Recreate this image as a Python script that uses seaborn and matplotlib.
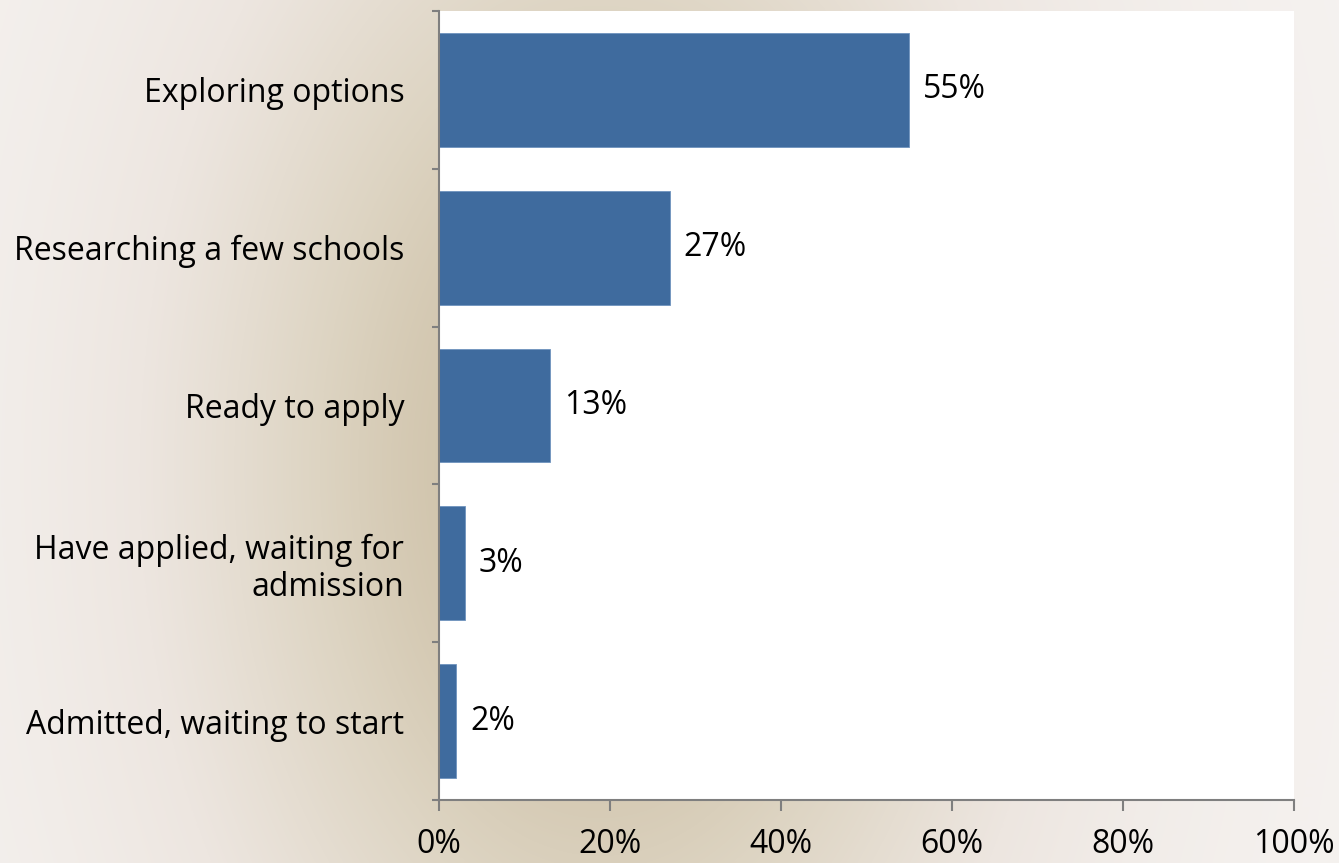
import numpy as np
import pandas as pd
import matplotlib
matplotlib.use("Agg")
import matplotlib.pyplot as plt
from matplotlib.colors import LinearSegmentedColormap
from matplotlib.ticker import FixedLocator, PercentFormatter
import seaborn as sns

# Survey stages and share of respondents (%)
stages = [
    "Exploring options",
    "Researching a few schools",
    "Ready to apply",
    "Have applied, waiting for\nadmission",
    "Admitted, waiting to start",
]
shares = [55, 27, 13, 3, 2]
x_ticks = [0, 20, 40, 60, 80, 100]

bar_color = "#3F6B9E"
axis_color = "#7F7F7F"
fs = 23

sns.set_theme(style="white")
plt.rcParams["font.family"] = ["Open Sans", "DejaVu Sans"]

fig = plt.figure(figsize=(13.39, 8.63), dpi=100)

# Parchment-like backdrop: light edges, warm tan toward the middle-left
bg_ax = fig.add_axes([0, 0, 1, 1], zorder=0)
h, w = 863, 1339
yy, xx = np.mgrid[0:h, 0:w]
shade = np.exp(-((xx - 600) / 440.0) ** 2 - ((yy - 470) / 700.0) ** 2)
cmap = LinearSegmentedColormap.from_list("parch", ["#F6F3F1", "#EDE6E0", "#DDD4C2", "#CBBDA2"])
bg_ax.imshow(shade, cmap=cmap, vmin=0, vmax=1, aspect="auto", extent=[0, 1, 0, 1])
bg_ax.set_axis_off()

ax = fig.add_axes([439 / 1339, 1 - 800 / 863, (1294 - 439) / 1339, (800 - 11) / 863], zorder=1)
ax.set_facecolor("white")

df = pd.DataFrame({"stage": stages, "share": shares})
sns.barplot(data=df, x="share", y="stage", orient="h", color=bar_color,
            saturation=1, width=0.72, edgecolor="#6F93BE", linewidth=0.6, ax=ax)

ax.set_xlim(0, 100)
ax.set_ylim(len(stages) - 0.5, -0.5)
ax.set_xlabel("")
ax.set_ylabel("")

# Value labels next to each bar
for i, v in enumerate(shares):
    ax.annotate(f"{v}%", xy=(v, i), xytext=(10, 0), textcoords="offset points",
                ha="left", va="center", fontsize=fs, color="black")

# x axis
ax.xaxis.set_major_locator(FixedLocator(x_ticks))
ax.xaxis.set_major_formatter(PercentFormatter(decimals=0))
ax.tick_params(axis="x", which="major", direction="out", length=8, width=1.5,
               color=axis_color, labelsize=fs, labelcolor="black", pad=12, bottom=True)

# y axis: tick marks between categories, labels at category centres
ax.yaxis.set_major_locator(FixedLocator(np.arange(-0.5, len(stages), 1.0)))
ax.set_yticklabels([""] * (len(stages) + 1), minor=False)
ax.set_yticks(np.arange(len(stages)), labels=stages, minor=True)
ax.tick_params(axis="y", which="major", direction="out", length=5, width=1.5,
               color=axis_color, left=True)
ax.tick_params(axis="y", which="minor", length=0, labelsize=fs, labelcolor="black", pad=25)
for lbl in ax.get_yticklabels(minor=True):
    lbl.set_horizontalalignment("right")
    lbl.set_multialignment("right")
    lbl.set_linespacing(1.15)

for side in ("top", "right"):
    ax.spines[side].set_visible(False)
for side in ("left", "bottom"):
    ax.spines[side].set_color(axis_color)
    ax.spines[side].set_linewidth(1.5)

fig.savefig("out.png", dpi=100)
